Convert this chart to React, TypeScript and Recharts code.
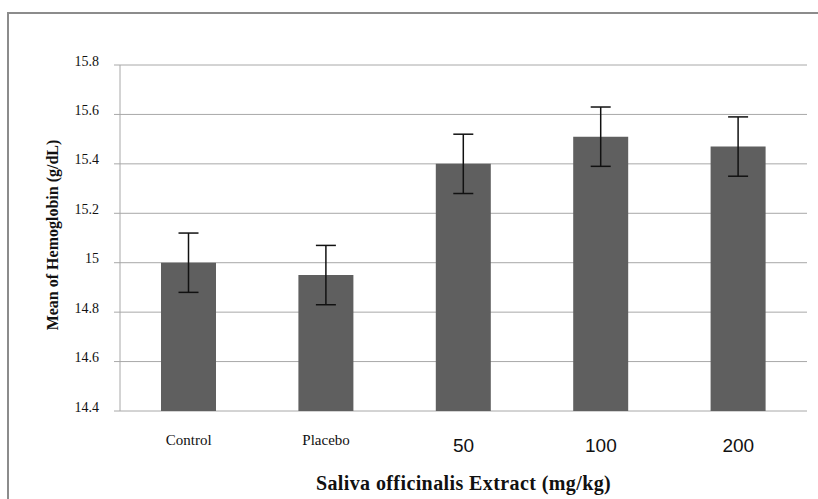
import React from "react";
import {
  BarChart,
  Bar,
  XAxis,
  YAxis,
  CartesianGrid,
  ErrorBar,
} from "recharts";

const groups = ["Control", "Placebo", "50", "100", "200"];
const means = [15.0, 14.95, 15.4, 15.51, 15.47];
const errors = [0.12, 0.12, 0.12, 0.12, 0.12];
const yTicks = [14.4, 14.6, 14.8, 15, 15.2, 15.4, 15.6, 15.8];
const edgeTicks = [0, 1, 2, 3, 4, 5];

const data = groups.map((g, i) => ({ group: g, mean: means[i], err: errors[i] }));

const GRID = "#a8a8a8";
const SERIF = "'Liberation Serif', 'DejaVu Serif', serif";

const XTick = (props: any) => {
  const { x, y, payload } = props;
  const isWord = isNaN(Number(payload.value));
  return (
    <text
      x={x}
      y={y + (isWord ? 21 : 26)}
      textAnchor="middle"
      dominantBaseline="central"
      fill="#111"
      fontFamily={isWord ? SERIF : "'Liberation Sans', Arial, sans-serif"}
      fontSize={isWord ? 15 : 19}
    >
      {payload.value}
    </text>
  );
};

const YTick = (props: any) => {
  const { x, y, payload } = props;
  return (
    <text
      x={x}
      y={y - 4}
      textAnchor="end"
      dominantBaseline="central"
      fill="#111"
      fontFamily={SERIF}
      fontSize={14}
    >
      {payload.value}
    </text>
  );
};

export default function App() {
  return (
    <div style={{ position: "absolute", left: 0, top: 0, width: 818, height: 499, background: "#fff" }}>
      <div
        style={{
          position: "absolute",
          left: 7,
          top: 12,
          width: 830,
          height: 500,
          borderLeft: "2px solid #8c8c8c",
          borderTop: "2px solid #8c8c8c",
        }}
      />
      <div style={{ position: "absolute", left: 0, top: 0 }}>
        <BarChart
          width={818}
          height={499}
          data={data}
          margin={{ top: 65, right: 11, bottom: 0, left: 0 }}
          barCategoryGap="30%"
        >
          <CartesianGrid vertical={false} stroke={GRID} strokeWidth={1} />
          <XAxis
            xAxisId="edges"
            type="number"
            domain={[0, 5]}
            ticks={edgeTicks}
            tick={false}
            height={0}
            stroke={GRID}
            tickSize={6}
          />
          <XAxis
            dataKey="group"
            axisLine={false}
            tickLine={false}
            height={88}
            tick={<XTick />}
            interval={0}
            label={{
              content: (p: any) => {
                const vb = p.viewBox;
                return (
                  <text
                    x={vb.x + vb.width / 2}
                    y={vb.y + 72}
                    textAnchor="middle"
                    dominantBaseline="central"
                    fontFamily={SERIF}
                    fontWeight="bold"
                    fontSize={20}
                    letterSpacing={0.4}
                    fill="#111"
                  >
                    Saliva officinalis Extract (mg/kg)
                  </text>
                );
              },
            }}
          />
          <YAxis
            width={120}
            domain={[14.4, 15.8]}
            ticks={yTicks}
            stroke={GRID}
            tickSize={6}
            tickMargin={15}
            tick={<YTick />}
            allowDataOverflow
            label={{
              content: (p: any) => {
                const vb = p.viewBox;
                const cx = vb.x + 52;
                const cy = vb.y + vb.height / 2 - 3;
                return (
                  <text
                    x={cx}
                    y={cy}
                    transform={`rotate(-90 ${cx} ${cy})`}
                    textAnchor="middle"
                    dominantBaseline="central"
                    fontFamily={SERIF}
                    fontWeight="bold"
                    fontSize={16}
                    fill="#111"
                  >
                    Mean of Hemoglobin (g/dL)
                  </text>
                );
              },
            }}
          />
          <Bar dataKey="mean" fill="#5f5f5f" barSize={55} isAnimationActive={false}>
            <ErrorBar dataKey="err" width={10} stroke="#111" strokeWidth={1.5} />
          </Bar>
        </BarChart>
      </div>
    </div>
  );
}
